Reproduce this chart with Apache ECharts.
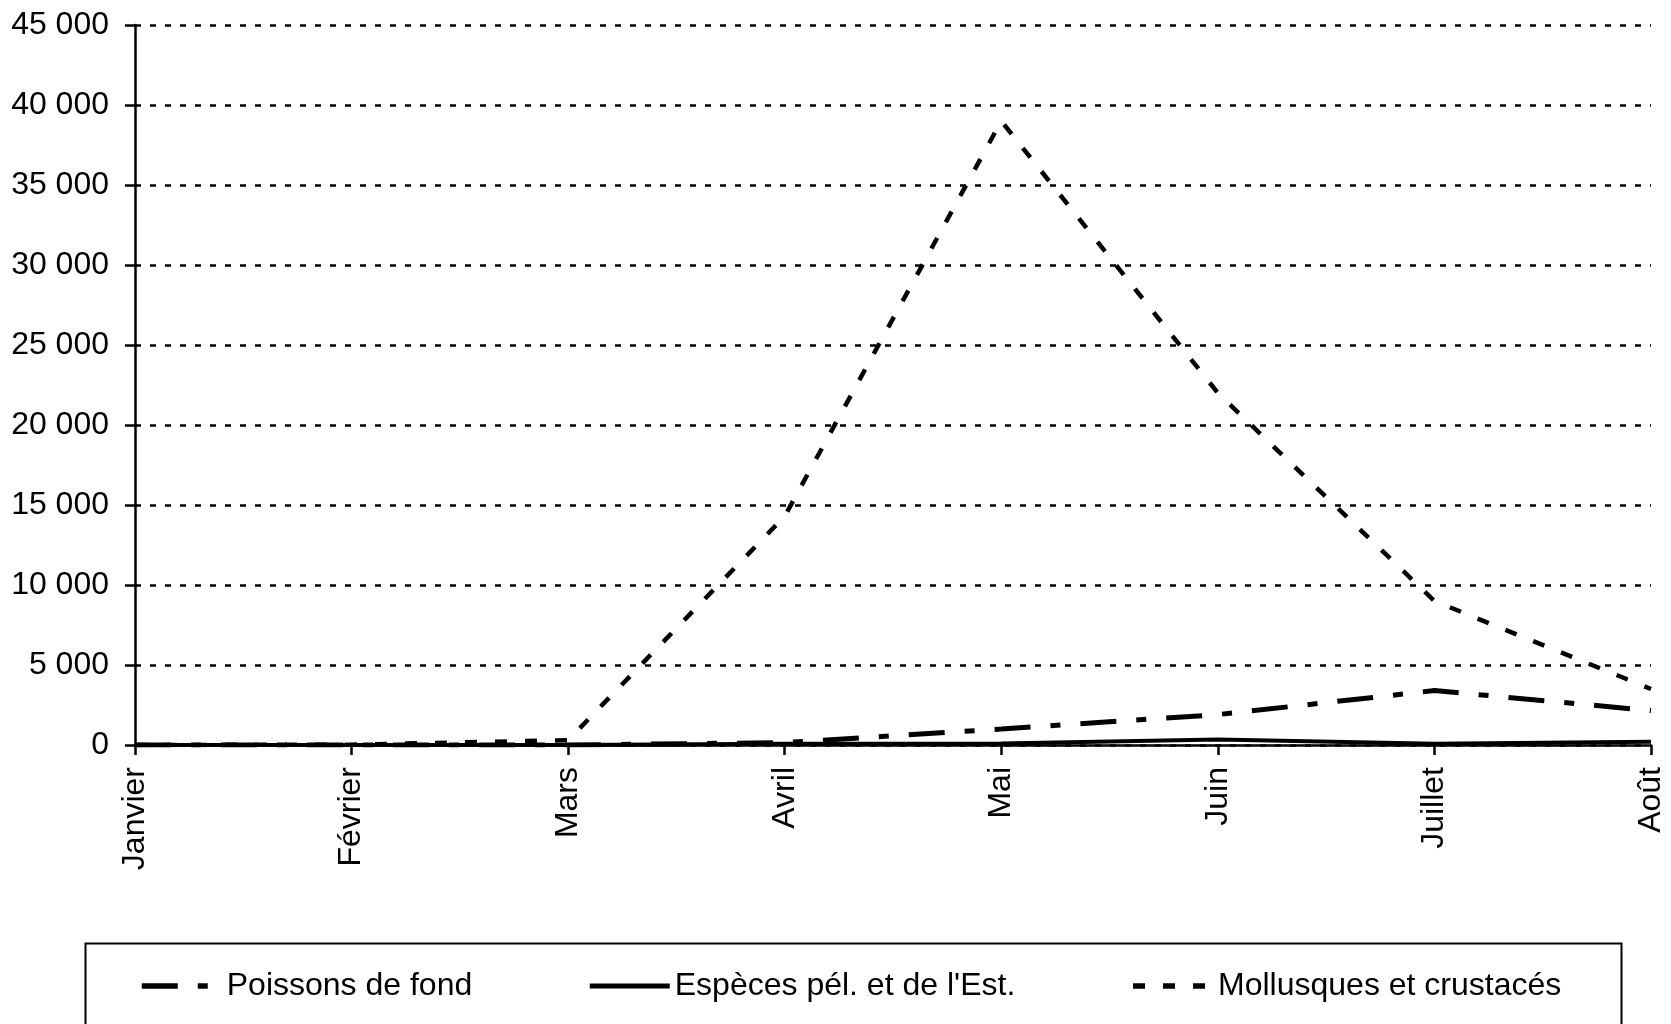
<!DOCTYPE html>
<html>
<head>
<meta charset="utf-8">
<script src="https://cdn.jsdelivr.net/npm/echarts@6/dist/echarts.min.js"></script>
<style>
html,body{margin:0;padding:0;background:#fff;}
#c{width:1671px;height:1024px;}
</style>
</head>
<body>
<div id="c"></div>
<script>
const months = ['Janvier','Février','Mars','Avril','Mai','Juin','Juillet','Août'];
const poissonsDeFond = [0, 0, 0, 150, 1000, 1900, 3400, 2150];
const especesPel = [0, 0, 0, 80, 100, 350, 80, 200];
const mollusques = [0, 20, 300, 14300, 39000, 22000, 9000, 3500];
const yTicks = {min: 0, max: 45000, interval: 5000};
const seriesNames = ['Poissons de fond', "Espèces pél. et de l'Est.", 'Mollusques et crustacés'];

const FONT = '"Liberation Sans", Arial, sans-serif';
const chart = echarts.init(document.getElementById('c'), null, {renderer: 'canvas'});
const fmt = v => String(v).replace(/\B(?=(\d{3})+(?!\d))/g, ' ');

const styles = [
  {width: 5, legendWidth: 5.5, type: [36, 20, 10, 20]},
  {width: 4, legendWidth: 5, type: 'solid'},
  {width: 4.5, legendWidth: 5.5, type: [12, 18]}
];
const seriesData = [poissonsDeFond, especesPel, mollusques];

chart.setOption({
  animation: false,
  backgroundColor: '#fff',
  textStyle: {fontFamily: FONT, color: '#000'},
  grid: {left: 135, right: 20, top: 25, bottom: 279, containLabel: false},
  xAxis: {
    type: 'category', data: months, boundaryGap: false,
    axisLine: {lineStyle: {color: '#000', width: 2.5}},
    axisTick: {show: true, alignWithLabel: true, length: 10, lineStyle: {color: '#000', width: 2.5}},
    axisLabel: {rotate: 90, margin: 22, fontSize: 32, color: '#000', fontFamily: FONT, interval: 0},
    splitLine: {show: false}
  },
  yAxis: {
    type: 'value', min: yTicks.min, max: yTicks.max, interval: yTicks.interval,
    axisLine: {show: true, lineStyle: {color: '#000', width: 2.5}},
    axisTick: {show: true, length: 10, lineStyle: {color: '#000', width: 2.5}},
    axisLabel: {margin: 26, fontSize: 32, color: '#000', fontFamily: FONT, formatter: fmt},
    splitLine: {show: true, lineStyle: {color: '#000', width: 2.5, type: [6, 9]}}
  },
  legend: {
    left: 139, top: 970, padding: 0, itemWidth: 80, itemHeight: 14, itemGap: 115,
    textStyle: {fontSize: 32, color: '#000', fontFamily: FONT},
    itemStyle: {opacity: 0, borderWidth: 0},
    data: seriesNames.map((n, i) => ({
      name: n,
      itemStyle: {opacity: 0, borderWidth: 0},
      lineStyle: {color: '#000', width: styles[i].legendWidth, type: styles[i].type}
    }))
  },
  graphic: [{
    type: 'rect', left: 83, top: 941,
    shape: {width: 1536, height: 110},
    style: {fill: 'none', stroke: '#000', lineWidth: 2},
    silent: true
  }],
  series: seriesNames.map((n, i) => ({
    name: n, type: 'line', data: seriesData[i],
    symbol: 'none', showSymbol: false, z: i === 1 ? 4 : 3,
    lineStyle: {color: '#000', width: styles[i].width, type: styles[i].type},
    itemStyle: {color: '#000'}
  }))
});
</script>
</body>
</html>
